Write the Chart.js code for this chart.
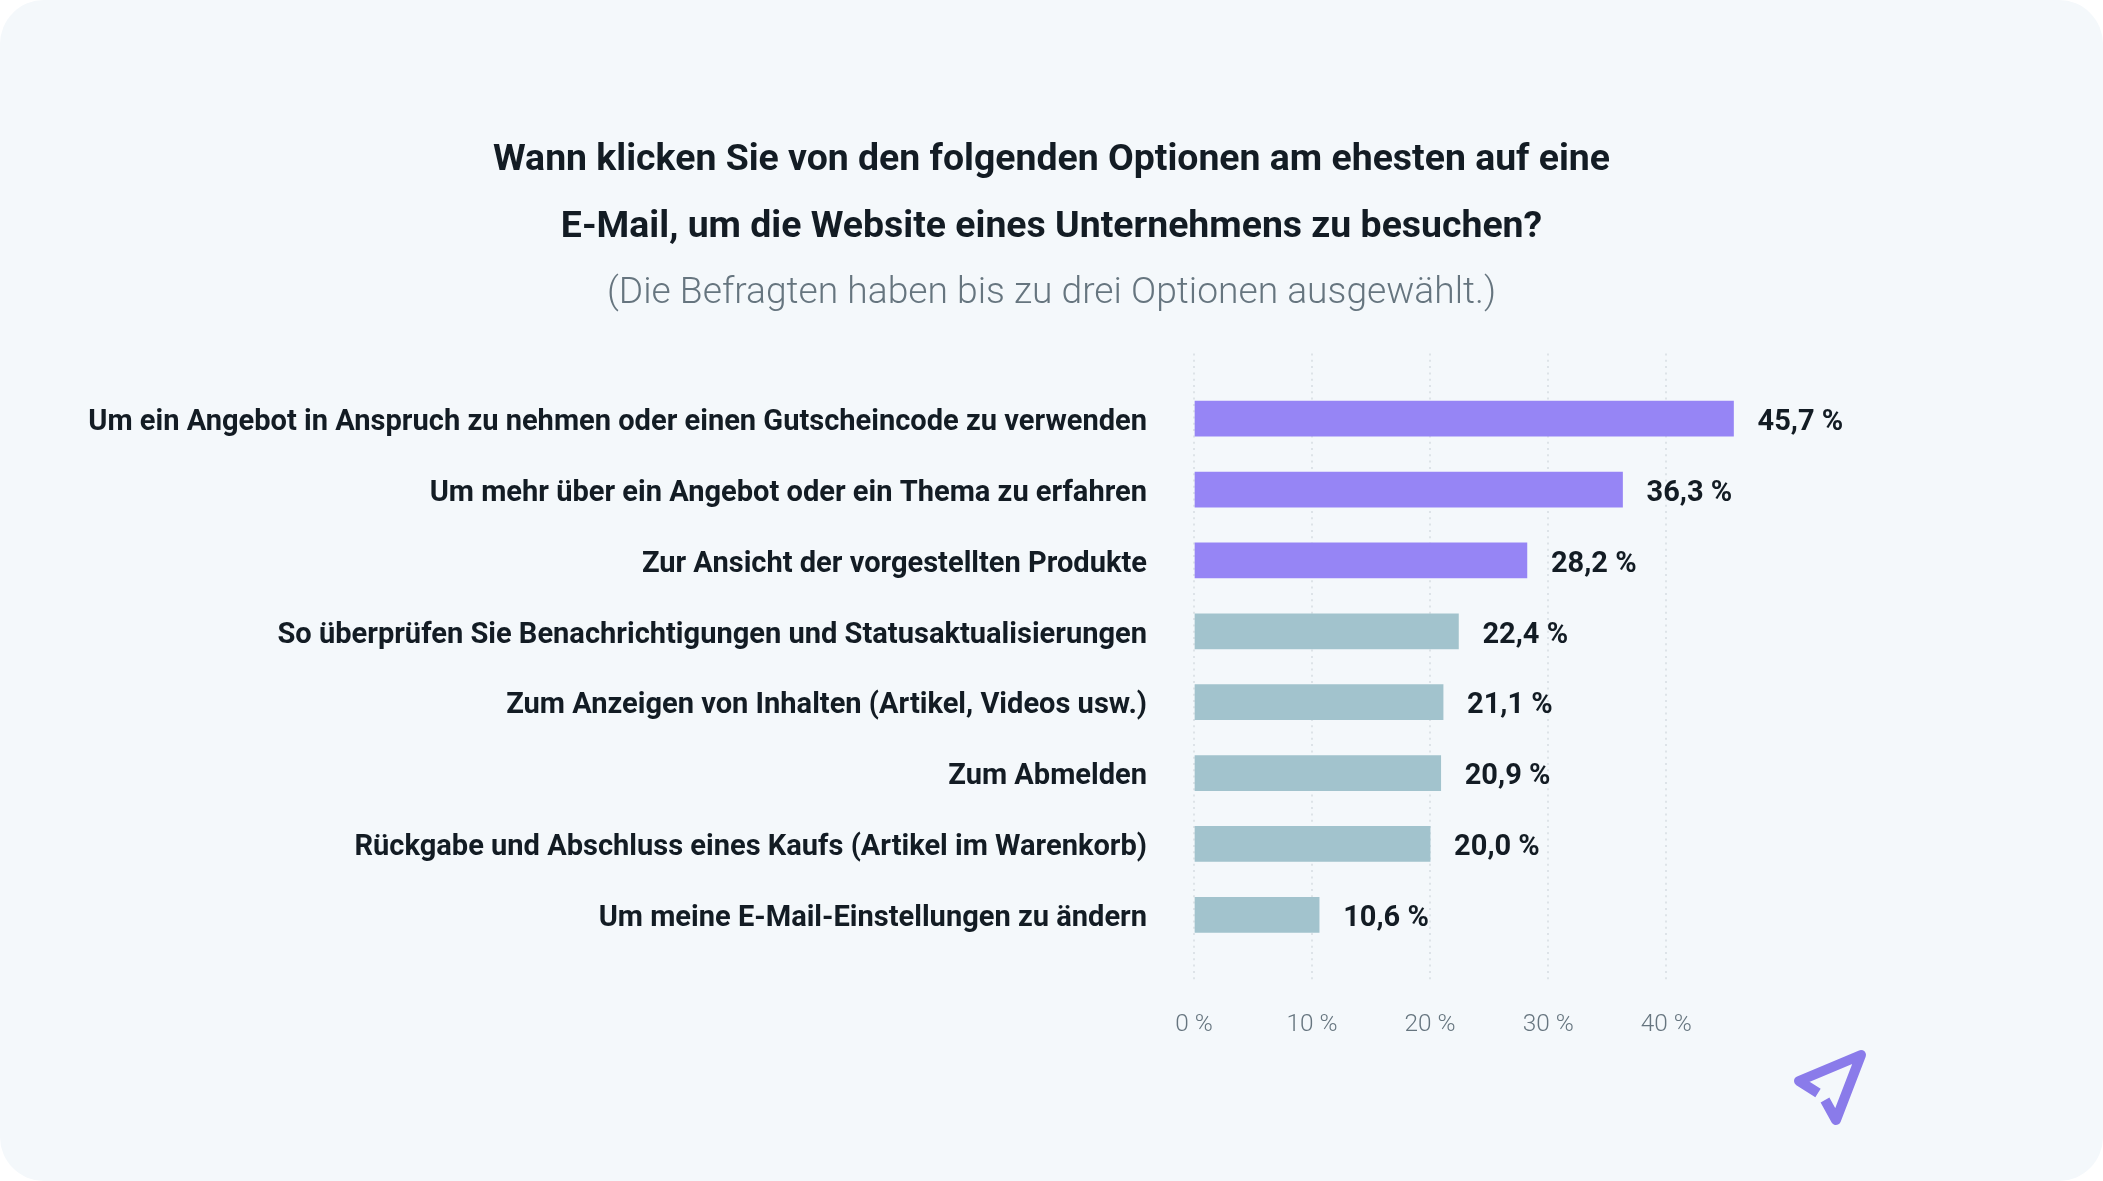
<!DOCTYPE html>
<html lang="de">
<head>
<meta charset="utf-8">
<title>E-Mail Klicks</title>
<script src="https://cdn.jsdelivr.net/npm/chart.js@4"></script>
<style>
    html, body { margin: 0; padding: 0; background: #ffffff; overflow: hidden; }
    #wrap { position: relative; width: 2103px; height: 1181px; }
    #chart { display: block; background: #f4f8fb; border-radius: 44px; }
    #logo { position: absolute; left: 1780px; top: 1040px; }
</style>
</head>
<body>
<div id="wrap">
    <canvas id="chart" width="2103" height="1181"></canvas>
    <svg id="logo" width="100" height="100" viewBox="1780 1040 100 100">
        <polyline points="1818,1093 1799,1081 1861,1055 1836,1120 1825,1100" fill="none" stroke="#8a7bea" stroke-width="10" stroke-linejoin="round" stroke-linecap="butt"/>
    </svg>
</div>
<script>
const titleLines = [
    'Wann klicken Sie von den folgenden Optionen am ehesten auf eine',
    'E-Mail, um die Website eines Unternehmens zu besuchen?'
];
const subtitleLine = '(Die Befragten haben bis zu drei Optionen ausgewählt.)';
const categories = [
    'Um ein Angebot in Anspruch zu nehmen oder einen Gutscheincode zu verwenden',
    'Um mehr über ein Angebot oder ein Thema zu erfahren',
    'Zur Ansicht der vorgestellten Produkte',
    'So überprüfen Sie Benachrichtigungen und Statusaktualisierungen',
    'Zum Anzeigen von Inhalten (Artikel, Videos usw.)',
    'Zum Abmelden',
    'Rückgabe und Abschluss eines Kaufs (Artikel im Warenkorb)',
    'Um meine E-Mail-Einstellungen zu ändern'
];
const values = [45.7, 36.3, 28.2, 22.4, 21.1, 20.9, 20.0, 10.6];
const barColors = ['#9685f5', '#9685f5', '#9685f5', '#a2c3cd', '#a2c3cd', '#a2c3cd', '#a2c3cd', '#a2c3cd'];
const xTicks = [0, 10, 20, 30, 40];

const textDark = '#131c24';
const fontName = 'Roboto';

// Value labels to the right of each bar
const valueLabels = {
    id: 'valueLabels',
    afterDatasetsDraw(chart) {
        const ctx = chart.ctx;
        ctx.save();
        ctx.font = '700 29px ' + fontName;
        ctx.fillStyle = textDark;
        ctx.textAlign = 'left';
        ctx.textBaseline = 'middle';
        chart.getDatasetMeta(0).data.forEach((bar, i) => {
            ctx.fillText(values[i].toFixed(1).replace('.', ',') + ' %', bar.x + 24, bar.y + 4);
        });
        ctx.restore();
    }
};

new Chart(document.getElementById('chart').getContext('2d'), {
    type: 'bar',
    data: {
        datasets: [{
            data: values.map((v, i) => ({ x: v, y: i })),
            backgroundColor: barColors,
            barThickness: 35
        }]
    },
    options: {
        indexAxis: 'y',
        responsive: false,
        animation: false,
        scales: {
            x: {
                type: 'linear',
                min: 0,
                max: 77,  // leaves the empty right side, title stays centred on the page
                position: 'bottom',
                border: { display: false, dash: [2, 4.3] },
                grid: { color: '#dde3e8', lineWidth: 2, drawTicks: false },
                afterBuildTicks(scale) { scale.ticks = xTicks.map((v) => ({ value: v })); },
                ticks: {
                    maxRotation: 0,
                    padding: 30,
                    color: '#66757f',
                    font: { family: fontName, weight: '300', size: 24.4 },
                    callback: (v) => v + ' %'
                },
                afterFit(scale) { scale.height = 201; }
            },
            y: {
                type: 'linear',
                reverse: true,
                offset: false,
                min: -0.92,
                max: 7.92,
                border: { display: false },
                grid: { display: false, drawTicks: false },
                afterBuildTicks(scale) { scale.ticks = categories.map((c, i) => ({ value: i })); },
                ticks: {
                    padding: 47,
                    labelOffset: 4,
                    color: textDark,
                    font: { family: fontName, weight: '700', size: 29.05 },
                    callback: (v) => categories[v]
                },
                afterFit(scale) { scale.width = 1194; }
            }
        },
        plugins: {
            legend: { display: false },
            tooltip: { enabled: false },
            title: {
                display: true,
                text: titleLines,
                color: textDark,
                font: { family: fontName, weight: '700', size: 37.4, lineHeight: 1.79 },
                padding: { top: 127, bottom: 0 }
            },
            subtitle: {
                display: true,
                text: subtitleLine,
                color: '#66757f',
                font: { family: fontName, weight: '300', size: 37.2, lineHeight: 1.79 },
                padding: { top: 0, bottom: 26 }
            }
        }
    },
    plugins: [valueLabels]
});
</script>
</body>
</html>
